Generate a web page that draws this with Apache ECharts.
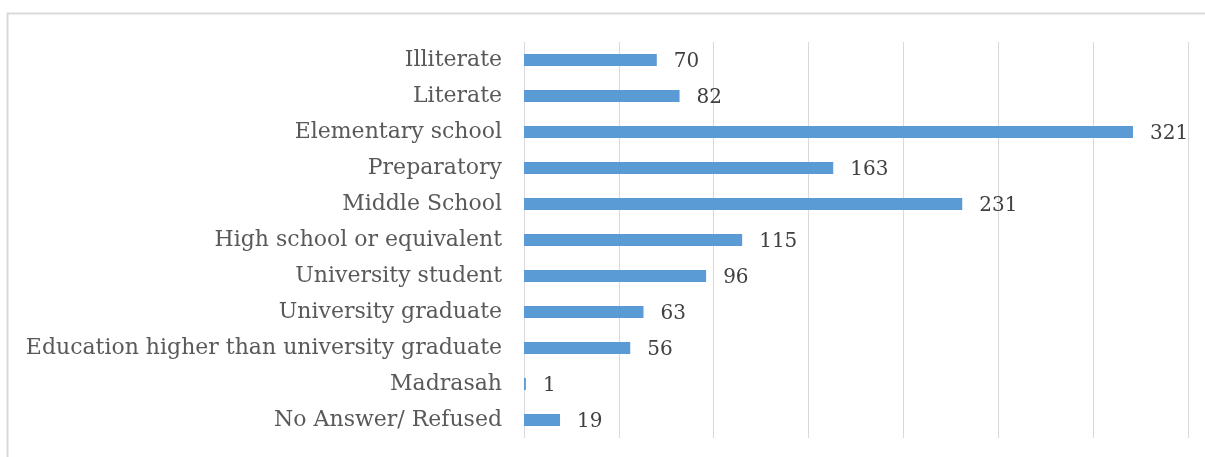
<!DOCTYPE html>
<html>
<head>
<meta charset="utf-8">
<script src="https://cdn.jsdelivr.net/npm/echarts@6/dist/echarts.min.js"></script>
<style>
  html, body { margin: 0; padding: 0; background: #fff; }
  #main { width: 1205px; height: 457px; }
</style>
</head>
<body>
<div id="main"></div>
<script>
var categories = [
    'Illiterate',
    'Literate',
    'Elementary school',
    'Preparatory',
    'Middle School',
    'High school or equivalent',
    'University student',
    'University graduate',
    'Education higher than university graduate',
    'Madrasah',
    'No Answer/ Refused'
];
var counts = [70, 82, 321, 163, 231, 115, 96, 63, 56, 1, 19];

var fontFamily = '"DejaVu Serif", serif';

var myChart = echarts.init(document.getElementById('main'));
var option;

option = {
    animation: false,
    graphic: [{
        type: 'rect',
        shape: { x: 7.5, y: 13.5, width: 1210, height: 460 },
        style: { fill: 'none', stroke: '#d9d9d9', lineWidth: 2 },
        silent: true
    }],
    grid: {
        left: 524,
        right: 17,
        top: 42,
        bottom: 19
    },
    xAxis: {
        type: 'value',
        min: 0,
        max: 350,
        interval: 50,
        axisLabel: { show: false },
        axisLine: { show: false },
        axisTick: { show: false },
        splitLine: { lineStyle: { color: '#d9d9d9', width: 1 } }
    },
    yAxis: {
        type: 'category',
        inverse: true,
        data: categories,
        axisLine: { show: false },
        axisTick: { show: false },
        axisLabel: {
            margin: 22,
            color: '#595959',
            fontFamily: fontFamily,
            fontSize: 22
        }
    },
    series: [{
        type: 'bar',
        data: counts,
        barWidth: 12,
        itemStyle: { color: '#5b9bd5' },
        label: {
            show: true,
            position: 'right',
            distance: 17,
            offset: [0, 2],
            color: '#404040',
            fontFamily: fontFamily,
            fontSize: 20
        }
    }]
};

option && myChart.setOption(option);
</script>
</body>
</html>
